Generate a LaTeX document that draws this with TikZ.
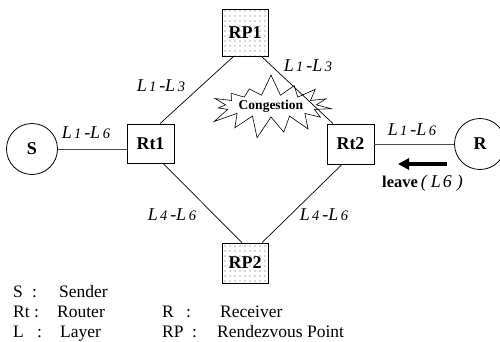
\documentclass[tikz,border=0pt]{standalone}
\usepackage{fontspec}
\setmainfont{Liberation Serif}
\usetikzlibrary{shapes.symbols,patterns.meta,arrows.meta}

% layer range label such as L1-L3, with smaller digits
\newcommand\lyr[2]{L\kern2pt{\fontsize{14.5}{14.5}\selectfont #1}\kern3pt-L\kern2.5pt{\fontsize{14.5}{14.5}\selectfont #2}}

\tikzset{
  router/.style={draw, line width=0.8pt, minimum width=47pt, minimum height=40pt,
    inner sep=0pt, font=\fontsize{18}{18}\selectfont\bfseries},
  rpbox/.style={draw, line width=0.8pt, minimum width=46pt, inner sep=0pt,
    pattern={Dots[distance=5pt,radius=0.55pt]}, pattern color=black!65,
    font=\fontsize{18}{18}\selectfont\bfseries},
  host/.style={circle, draw, line width=0.8pt, minimum size=51pt, inner sep=0pt,
    font=\fontsize{18}{18}\selectfont\bfseries},
  link/.style={line width=0.7pt},
  hlink/.style={line width=0.9pt, draw=black!70},
  lab/.style={inner sep=0pt, font=\fontsize{18}{18}\selectfont\itshape},
  legend/.style={anchor=base west, inner sep=0pt, font=\fontsize{17.5}{17.5}\selectfont},
  burst/.style={starburst, draw, line width=0.6pt, starburst points=15,
    starburst point height=22pt, random starburst=7, minimum width=104pt,
    minimum height=66pt, inner sep=0pt, font=\fontsize{13.5}{13.5}\selectfont\bfseries}
}

\begin{document}
\begin{tikzpicture}[x=1pt,y=-1pt]
  \useasboundingbox (0,0) rectangle (500,341);

  % nodes
  \node[rpbox, minimum height=47pt] (RP1) at (245,33) {RP1};
  \node[rpbox, minimum height=40pt] (RP2) at (245,263) {RP2};
  \node[router, minimum height=39pt] (Rt1) at (150.5,143.5) {Rt1};
  \node[router] (Rt2) at (350.5,144) {Rt2};
  \node[host] (S) at (32,149) {S};
  \node[host] (R) at (480,144) {R};

  % congestion mark
  \node[burst] (cong) at (271,106) {Congestion};

  % links
  \draw[hlink] (S.east) -- (S.east -| Rt1.west);
  \draw[hlink] (Rt2.east |- R.west) -- (R.west);
  \draw[link] ([xshift=9.5pt]Rt1.north) -- ([xshift=-12pt]RP1.south);
  \draw[link] ([xshift=-17.5pt]Rt2.north) -- ([xshift=17pt]RP1.south);
  \draw[link] ([xshift=12.5pt]Rt1.south) -- ([xshift=-3pt]RP2.north);
  \draw[link] ([xshift=-8.5pt]Rt2.south) -- ([xshift=17pt]RP2.north);

  % layer labels
  \node[lab] (l1) at (161,86) {\lyr{1}{3}};
  \node[lab] (l2) at (308,66) {\lyr{1}{3}};
  \node[lab] (l3) at (86,133) {\lyr{1}{6}};
  \node[lab] (l4) at (412,130) {\lyr{1}{6}};
  \node[lab] (l5) at (172,215) {\lyr{4}{6}};
  \node[lab] (l6) at (324,215) {\lyr{4}{6}};

  % leave message
  \coordinate (arrS) at (447,164);
  \coordinate (arrE) at (398,164);
  \draw[line width=3.6pt, -{Triangle[length=11pt,width=11pt]}] (arrS) -- (arrE);
  \node[legend] (leave) at (382,187)
    {{\fontsize{16.5}{16.5}\selectfont\bfseries leave}\kern3pt{\fontsize{18}{18}\selectfont\itshape(\kern4pt L\kern2pt 6\kern5pt)}};

  % legend
  \node[legend] (k1) at (13,297) {S};
  \node[legend] (c1) at (32,297) {:};
  \node[legend] (v1) at (59,297) {Sender};
  \node[legend] (k2) at (13,317) {Rt};
  \node[legend] (c2) at (34,317) {:};
  \node[legend] (v2) at (57,317) {Router};
  \node[legend] (k3) at (13,337) {L};
  \node[legend] (c3) at (37,337) {:};
  \node[legend] (v3) at (60,337) {Layer};
  \node[legend] (k4) at (162,317) {R};
  \node[legend] (c4) at (186,317) {:};
  \node[legend] (v4) at (220,317) {Receiver};
  \node[legend] (k5) at (162,337) {RP};
  \node[legend] (c5) at (192,337) {:};
  \node[legend] (v5) at (217,337) {Rendezvous Point};
\end{tikzpicture}
\end{document}
